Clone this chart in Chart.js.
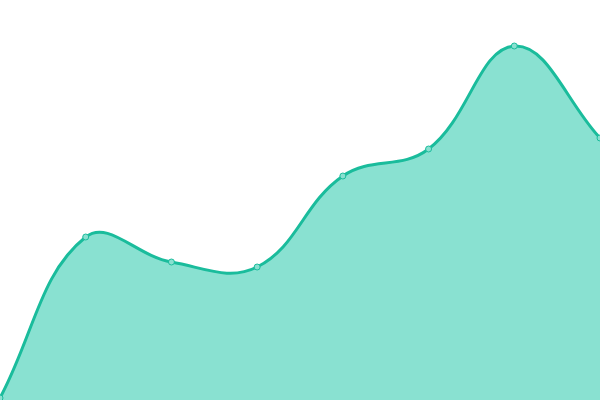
<!DOCTYPE html>
<html>
<head>
<meta charset="utf-8">
<script src="https://cdn.jsdelivr.net/npm/chart.js@4"></script>
<style>
  html, body { margin: 0; padding: 0; background: #fff; }
  #wrap { width: 600px; height: 400px; }
</style>
</head>
<body>
<div id="wrap"><canvas id="graph"></canvas></div>
<script>
// values
const labels = ['1', '2', '3', '4', '5', '6', '7', '8'];
const values = [2, 163, 138, 133, 224, 251, 354, 262];

const ctx = document.querySelector("#graph").getContext("2d");

new Chart(ctx, {
    type: 'line',
    data: {
        labels: labels,
        datasets: [{
            data: values,
            fill: true,
            borderColor: '#1abc9c',
            backgroundColor: 'rgba(20, 196, 164, 0.5)',
            borderWidth: 3,
            pointRadius: 3,
            pointBorderWidth: 1,
            pointBackgroundColor: '#89e0d0',
            pointBorderColor: '#1abc9c',
            tension: 0.4
        }]
    },
    options: {
        responsive: true,
        maintainAspectRatio: false,
        animation: false,
        layout: { padding: 0, autoPadding: false },
        scales: {
            x: { display: false, offset: false },
            y: { display: false, min: 0, max: 400 }
        },
        plugins: {
            legend: { display: false },
            tooltip: { enabled: false }
        }
    }
});
</script>
</body>
</html>
